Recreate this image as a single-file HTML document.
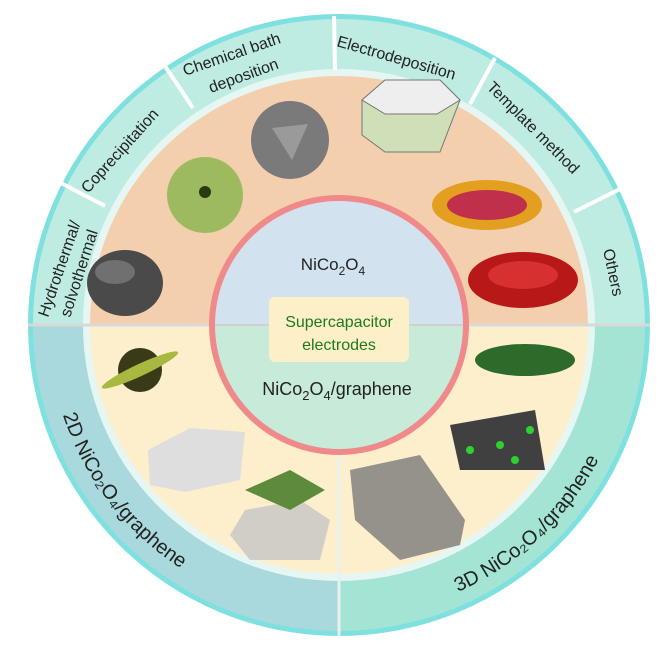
<!DOCTYPE html>
<html><head><meta charset="utf-8"><style>
html,body{margin:0;padding:0;background:#fff;}
svg{display:block;}
text{font-family:"Liberation Sans",sans-serif;}
</style></head><body>
<svg width="664" height="651" viewBox="0 0 664 651" xmlns="http://www.w3.org/2000/svg">
<defs>
<clipPath id="top"><rect x="0" y="0" width="664" height="325"/></clipPath>
<clipPath id="bl"><rect x="0" y="325" width="339" height="326"/></clipPath>
<clipPath id="br"><rect x="339" y="325" width="330" height="326"/></clipPath>
<path id="arc2d" d="M 63 415 A 290 290 0 0 0 314 614"/>
<path id="arc3d" d="M 458 592 A 292 292 0 0 0 627 376"/>
</defs>
<circle cx="339" cy="325" r="311" fill="#7fe0e0"/>
<circle cx="339" cy="325" r="306" fill="#bfece2" clip-path="url(#top)"/>
<circle cx="339" cy="325" r="306" fill="#a9d9dc" clip-path="url(#bl)"/>
<circle cx="339" cy="325" r="306" fill="#a4e4d4" clip-path="url(#br)"/>
<circle cx="339" cy="325" r="256" fill="#e6f7f3"/>
<circle cx="339" cy="325" r="249" fill="#f3cfae" clip-path="url(#top)"/>
<circle cx="339" cy="325" r="249" fill="#fdefcb" clip-path="url(#bl)"/>
<circle cx="339" cy="325" r="249" fill="#fdefcb" clip-path="url(#br)"/>
<line x1="28" y1="325" x2="650" y2="325" stroke="#d8d8d8" stroke-width="3"/>
<line x1="339" y1="450" x2="339" y2="636" stroke="#e8f0f0" stroke-width="3"/>
<g stroke="#ffffff" stroke-width="4">
<line x1="105" y1="206" x2="61" y2="183"/>
<line x1="193" y1="108" x2="165" y2="66"/>
<line x1="335" y1="70" x2="334" y2="16"/>
<line x1="470" y1="104" x2="495" y2="58"/>
<line x1="574" y1="212" x2="620" y2="189"/>
</g>
<circle cx="339" cy="325" r="127" fill="#d3e2ef" clip-path="url(#top)"/>
<circle cx="339" cy="325" r="127" fill="#c7ead9" clip-path="url(#bl)"/>
<circle cx="339" cy="325" r="127" fill="#c7ead9" clip-path="url(#br)"/>
<line x1="212" y1="325" x2="466" y2="325" stroke="#d0d0d0" stroke-width="2"/>
<circle cx="339" cy="325" r="127" fill="none" stroke="#f08a8a" stroke-width="6"/>
<rect x="269" y="297" width="140" height="65" rx="6" fill="#fdf0c8"/>
<text x="339" y="327" font-size="16" fill="#1e7a1e" text-anchor="middle">Supercapacitor</text>
<text x="339" y="350" font-size="16" fill="#1e7a1e" text-anchor="middle">electrodes</text>
<text x="333" y="270" font-size="17" fill="#222" text-anchor="middle">NiCo<tspan font-size="12" dy="5">2</tspan><tspan dy="-5">O</tspan><tspan font-size="12" dy="5">4</tspan></text>
<text x="337" y="395" font-size="18" fill="#222" text-anchor="middle">NiCo<tspan font-size="13" dy="5">2</tspan><tspan dy="-5">O</tspan><tspan font-size="13" dy="5">4</tspan><tspan dy="-5">/graphene</tspan></text>
<g font-size="16" fill="#222">
<text transform="translate(48,318) rotate(-71)">Hydrothermal/</text>
<text transform="translate(70,318) rotate(-72)">solvothermal</text>
<text transform="translate(88,194) rotate(-48)">Coprecipitation</text>
<text transform="translate(185,76) rotate(-19)">Chemical bath</text>
<text transform="translate(211,93) rotate(-20)">deposition</text>
<text transform="translate(336,46) rotate(16)">Electrodeposition</text>
<text transform="translate(486,88) rotate(45)">Template method</text>
<text transform="translate(603,250) rotate(78)">Others</text>
</g>
<text font-size="20" fill="#222"><textPath href="#arc2d">2D NiCo₂O₄/graphene</textPath></text>
<text font-size="20" fill="#222"><textPath href="#arc3d">3D NiCo₂O₄/graphene</textPath></text>
<g>
<ellipse cx="125" cy="283" rx="38" ry="33" fill="#4a4a4a"/>
<ellipse cx="115" cy="272" rx="20" ry="12" fill="#707070"/>
<circle cx="205" cy="195" r="38" fill="#9dbb5e"/>
<circle cx="205" cy="192" r="6" fill="#2a3a10"/>
<circle cx="290" cy="140" r="39" fill="#7a7a7a"/>
<path d="M272 128 L308 124 L292 160 Z" fill="#9a9a9a"/>
<path d="M362 100 L385 80 L440 80 L460 100 L440 152 L385 152 L362 135 Z" fill="#cfe0b8" stroke="#777"/>
<path d="M362 100 L385 80 L440 80 L460 100 L437 114 L385 114 Z" fill="#eeeeee" stroke="#777"/>
<ellipse cx="487" cy="205" rx="55" ry="25" fill="#e3a020"/>
<ellipse cx="487" cy="205" rx="40" ry="15" fill="#c0304a"/>
<ellipse cx="523" cy="280" rx="55" ry="28" fill="#b81818"/>
<ellipse cx="523" cy="275" rx="35" ry="14" fill="#d83030"/>
<ellipse cx="140" cy="370" rx="22" ry="22" fill="#3a3a18"/>
<ellipse cx="140" cy="370" rx="42" ry="6" fill="#a8b840" transform="rotate(-25 140 370)"/>
<path d="M148 450 L190 428 L245 432 L240 480 L185 492 L150 485 Z" fill="#dedede"/>
<path d="M245 510 L300 500 L330 520 L320 560 L250 560 L230 535 Z" fill="#c6c6c6" opacity="0.8"/>
<path d="M245 490 L290 470 L325 490 L290 510 Z" fill="#5e8a3c"/>
<ellipse cx="525" cy="360" rx="50" ry="16" fill="#2e6a2a"/>
<path d="M450 425 L535 410 L545 470 L460 470 Z" fill="#404040"/>
<circle cx="470" cy="450" r="4" fill="#30d030"/><circle cx="500" cy="445" r="4" fill="#30d030"/><circle cx="530" cy="430" r="4" fill="#30d030"/><circle cx="515" cy="460" r="4" fill="#30d030"/>
<path d="M350 470 L420 455 L465 520 L460 545 L400 560 L355 520 Z" fill="#7a7a7a" opacity="0.8"/>
</g>
</svg>
</body></html>
